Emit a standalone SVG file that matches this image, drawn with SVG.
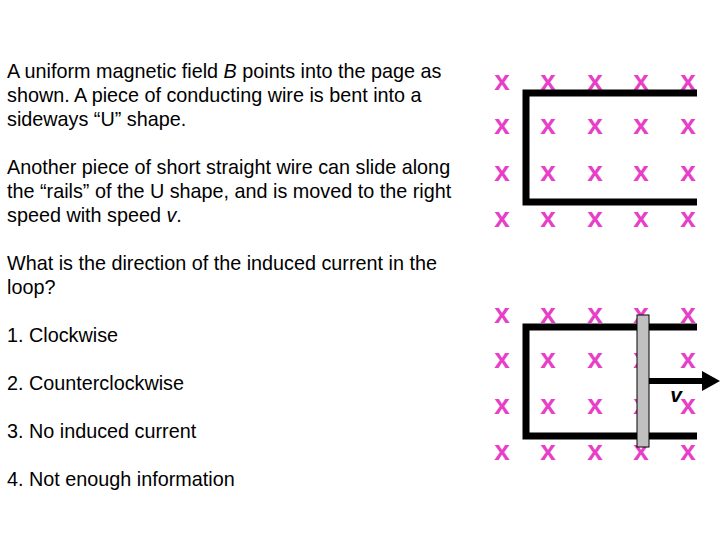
<svg xmlns="http://www.w3.org/2000/svg" width="720" height="540" viewBox="0 0 720 540">
<style>
.t{font-family:"Liberation Sans",Arial,sans-serif;font-size:19.8px;fill:#000}
.x{font-family:"Liberation Sans",Arial,sans-serif;font-size:28px;font-weight:bold;fill:#e83fc8;text-anchor:middle}
.w{fill:none;stroke:#000;stroke-width:7}
</style>
<rect width="720" height="540" fill="#fff"/>
<g id="text">
<text class="t" x="7" y="78">A uniform magnetic field <tspan font-style="italic">B</tspan> points into the page as</text>
<text class="t" x="7" y="102">shown.  A piece of conducting wire is bent into a</text>
<text class="t" x="7" y="126">sideways “U” shape.</text>
<text class="t" x="7" y="174">Another piece of short straight wire can slide along</text>
<text class="t" x="7" y="198">the “rails” of the U shape, and is moved to the right</text>
<text class="t" x="7" y="222">speed with speed <tspan font-style="italic">v</tspan>.</text>
<text class="t" x="7" y="270">What is the direction of the induced current in the</text>
<text class="t" x="7" y="294">loop?</text>
<text class="t" x="7" y="342">1. Clockwise</text>
<text class="t" x="7" y="390">2. Counterclockwise</text>
<text class="t" x="7" y="438">3. No induced current</text>
<text class="t" x="7" y="486">4. Not enough information</text>
</g>
<g id="field">
<text class="x" x="502" y="90">x</text><text class="x" x="548" y="90">x</text><text class="x" x="595" y="90">x</text><text class="x" x="641" y="90">x</text><text class="x" x="688" y="90">x</text>
<text class="x" x="502" y="134">x</text><text class="x" x="548" y="134">x</text><text class="x" x="595" y="134">x</text><text class="x" x="641" y="134">x</text><text class="x" x="688" y="134">x</text>
<text class="x" x="502" y="181">x</text><text class="x" x="548" y="181">x</text><text class="x" x="595" y="181">x</text><text class="x" x="641" y="181">x</text><text class="x" x="688" y="181">x</text>
<text class="x" x="502" y="227">x</text><text class="x" x="548" y="227">x</text><text class="x" x="595" y="227">x</text><text class="x" x="641" y="227">x</text><text class="x" x="688" y="227">x</text>
<text class="x" x="502" y="323">x</text><text class="x" x="548" y="323">x</text><text class="x" x="595" y="323">x</text><text class="x" x="641" y="323">x</text><text class="x" x="688" y="323">x</text>
<text class="x" x="502" y="368">x</text><text class="x" x="548" y="368">x</text><text class="x" x="595" y="368">x</text><text class="x" x="641" y="368">x</text><text class="x" x="688" y="368">x</text>
<text class="x" x="502" y="414">x</text><text class="x" x="548" y="414">x</text><text class="x" x="595" y="414">x</text><text class="x" x="641" y="414">x</text><text class="x" x="688" y="414">x</text>
<text class="x" x="502" y="460">x</text><text class="x" x="548" y="460">x</text><text class="x" x="595" y="460">x</text><text class="x" x="641" y="460">x</text><text class="x" x="688" y="460">x</text>
</g>
<g id="u-top"><path class="w" d="M697 93 H526 V202 H697"/></g>
<g id="u-bottom"><path class="w" d="M697 327 H526 V436 H697"/></g>
<g id="bar"><rect x="637" y="315" width="12" height="132" fill="#c0c0c0" stroke="#000" stroke-width="1"/></g>
<g id="connectors">
<line x1="649" y1="381" x2="704" y2="381" stroke="#000" stroke-width="6"/>
<polygon points="702,371 720,381 702,391" fill="#000"/>
</g>
<text x="676" y="402" font-family="Liberation Sans,Arial,sans-serif" font-size="21" font-weight="bold" font-style="italic" text-anchor="middle">v</text>
</svg>
